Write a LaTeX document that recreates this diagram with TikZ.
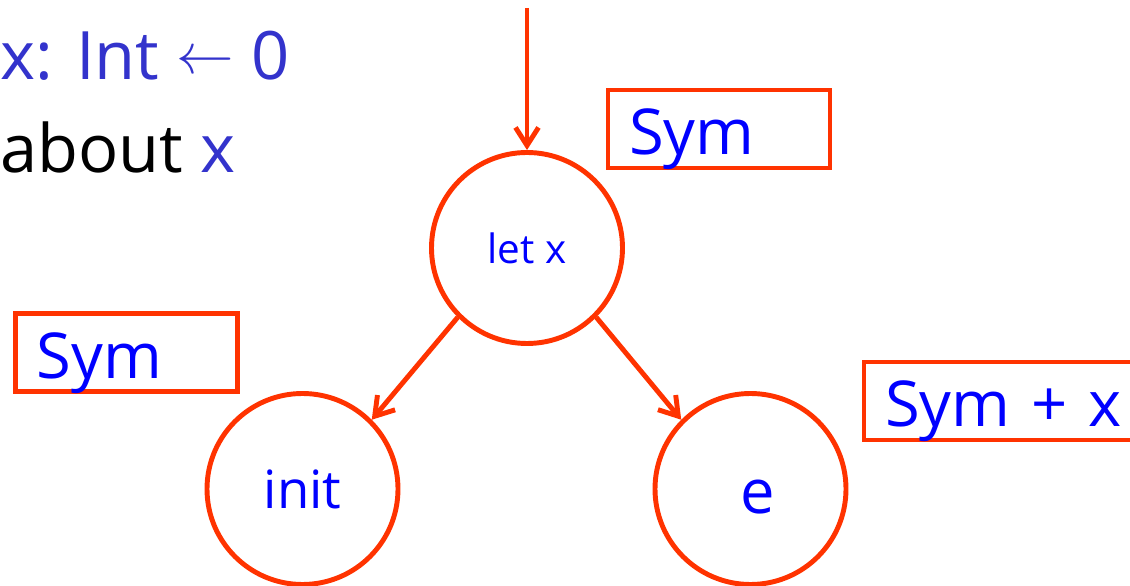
\documentclass[tikz,border=0pt]{standalone}
\usepackage{fontspec}
\setmainfont{Open Sans}
\usetikzlibrary{arrows.meta}
\definecolor{edgered}{RGB}{255,51,0}
\definecolor{labelblue}{RGB}{0,0,255}
\definecolor{codeblue}{RGB}{51,51,204}

\begin{document}
\begin{tikzpicture}[
    astnode/.style={circle, draw=edgered, line width=2.8pt, minimum size=3.82cm, inner sep=0pt, text=labelblue},
    symbox/.style={rectangle, draw=edgered, line width=2.8pt, minimum height=1.56cm, text width=#1, inner xsep=0.42cm, inner ysep=0pt, align=left, text height=1.04cm, text depth=0pt, text=labelblue, font=\fontsize{36}{40}\selectfont},
    symbox/.default=3.6cm,
    codetext/.style={anchor=base west, inner sep=0pt, font=\fontsize{38}{42}\selectfont},
    arrow/.style={-{Straight Barb[length=3.6mm, width=4.6mm]}, line width=2.8pt, edgered}
]
\useasboundingbox (0,0) rectangle (22.6,11.72);

% Code text (cut off at the left)
\node[codetext, text=codeblue] (decl) at (0,10.12) {x: Int\ \raisebox{0.1em}{\resizebox{1.15cm}{!}{$\leftarrow$}}\ 0};
\node[codetext] (about) at (0,8.26) {about \textcolor{codeblue}{x}};

% AST nodes
\node[astnode, font=\fontsize{23}{26}\selectfont] (letx) at (10.54,6.76) {let x};
\node[astnode, font=\fontsize{30}{34}\selectfont] (init) at (6.05,1.94) {init};
\node[astnode, font=\fontsize{35}{40}\selectfont, text height=1.0cm, text depth=0pt] (body) at (15.01,1.94) {\hspace{0.3cm}e};

% Symbol table boxes
\node[symbox] (symtop) at (14.38,9.14) {Sym};
\node[symbox] (symleft) at (2.53,4.67) {Sym};
\node[symbox=4.88cm] (symright) at (20.14,3.70) {Sym + x};

% Arrows
\coordinate (in) at (10.54,11.56);
\draw[arrow] (in) -- (letx.north);
\draw[arrow] (letx.-135) -- (init.45);
\draw[arrow] (letx.-45) -- (body.135);
\end{tikzpicture}
\end{document}
